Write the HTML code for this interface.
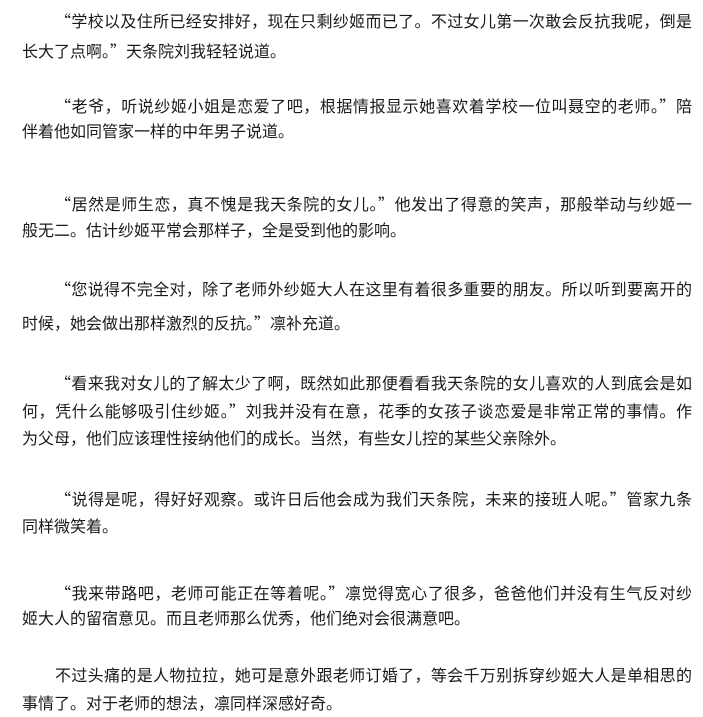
<!DOCTYPE html>
<html><head><meta charset="utf-8"><style>
html,body{margin:0;padding:0;background:#fff;width:703px;height:717px;overflow:hidden}
.l{position:absolute;left:22px;width:670px;font:16px "Liberation Sans","Noto Sans CJK SC",sans-serif;line-height:20px;height:20px;color:#1a1a1a;white-space:nowrap;text-align:justify;text-align-last:justify}
.i{left:55px;width:637px}
.e{text-align-last:left}
q{quotes:none;font-family:"Noto Sans CJK SC",sans-serif}
q:before,q:after{content:none}
</style></head><body>
<div class="l i" style="top:10px"><q>“</q>学校以及住所已经安排好，现在只剩纱姬而已了。不过女儿第一次敢会反抗我呢，倒是</div>
<div class="l e" style="top:40px">长大了点啊。<q>”</q>天条院刘我轻轻说道。</div>
<div class="l i" style="top:95px"><q>“</q>老爷，听说纱姬小姐是恋爱了吧，根据情报显示她喜欢着学校一位叫聂空的老师。<q>”</q>陪</div>
<div class="l e" style="top:123px">伴着他如同管家一样的中年男子说道。</div>
<div class="l i" style="top:193px"><q>“</q>居然是师生恋，真不愧是我天条院的女儿。<q>”</q>他发出了得意的笑声，那般举动与纱姬一</div>
<div class="l e" style="top:222px">般无二。估计纱姬平常会那样子，全是受到他的影响。</div>
<div class="l i" style="top:278px"><q>“</q>您说得不完全对，除了老师外纱姬大人在这里有着很多重要的朋友。所以听到要离开的</div>
<div class="l e" style="top:312px">时候，她会做出那样激烈的反抗。<q>”</q>凛补充道。</div>
<div class="l i" style="top:372px"><q>“</q>看来我对女儿的了解太少了啊，既然如此那便看看我天条院的女儿喜欢的人到底会是如</div>
<div class="l" style="top:400px">何，凭什么能够吸引住纱姬。<q>”</q>刘我并没有在意，花季的女孩子谈恋爱是非常正常的事情。作</div>
<div class="l e" style="top:430px">为父母，他们应该理性接纳他们的成长。当然，有些女儿控的某些父亲除外。</div>
<div class="l i" style="top:488px"><q>“</q>说得是呢，得好好观察。或许日后他会成为我们天条院，未来的接班人呢。<q>”</q>管家九条</div>
<div class="l e" style="top:518px">同样微笑着。</div>
<div class="l i" style="top:582px"><q>“</q>我来带路吧，老师可能正在等着呢。<q>”</q>凛觉得宽心了很多，爸爸他们并没有生气反对纱</div>
<div class="l e" style="top:610px">姬大人的留宿意见。而且老师那么优秀，他们绝对会很满意吧。</div>
<div class="l i" style="top:667px">不过头痛的是人物拉拉，她可是意外跟老师订婚了，等会千万别拆穿纱姬大人是单相思的</div>
<div class="l e" style="top:695px">事情了。对于老师的想法，凛同样深感好奇。</div>
</body></html>
